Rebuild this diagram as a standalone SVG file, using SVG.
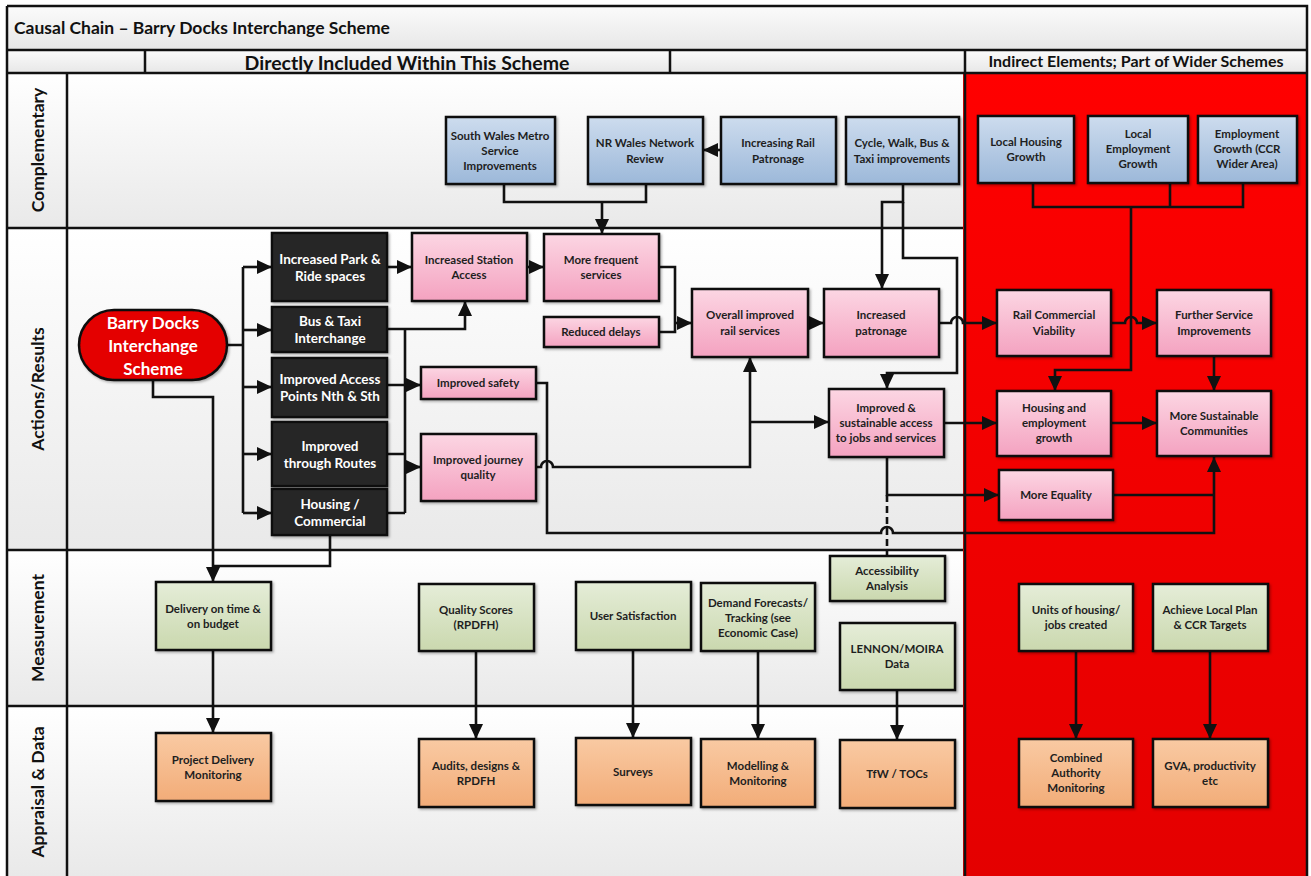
<svg xmlns="http://www.w3.org/2000/svg" width="1311" height="876" viewBox="0 0 1311 876">
  <style>
    .t { font-family: Lato, "Open Sans", "Liberation Sans", sans-serif; font-weight: bold; font-size: 11.5px; text-anchor: middle; fill: #1e1e1e; }
    .tw { fill: #ffffff; font-size: 13.5px; }
    .big { fill: #ffffff; font-size: 17px; }
    .lane { font-family: Lato, "Open Sans", "Liberation Sans", sans-serif; font-weight: bold; font-size: 17.5px; text-anchor: middle; fill: #111; }
    .hdr { font-family: Lato, "Open Sans", "Liberation Sans", sans-serif; font-weight: bold; text-anchor: middle; fill: #111; }
    .box { stroke: #111; stroke-width: 2.5; }
    .blue { fill: url(#gBlue); }
    .pink { fill: url(#gPink); }
    .green { fill: url(#gGreen); }
    .orange { fill: url(#gOrange); }
    .dark { fill: #262626; }
    .c { fill: none; stroke: #111; stroke-width: 2.6; }
    .a { marker-end: url(#ah); }
    .grid { stroke: #111; stroke-width: 2.5; fill: none; }
  </style>
  <defs>
    <linearGradient id="gBlue" x1="0" y1="0" x2="0" y2="1">
      <stop offset="0" stop-color="#cddcee"/>
      <stop offset="1" stop-color="#9cb8d9"/>
    </linearGradient>
    <linearGradient id="gPink" x1="0" y1="0" x2="0" y2="1">
      <stop offset="0" stop-color="#fcd6e3"/>
      <stop offset="1" stop-color="#f4a2c0"/>
    </linearGradient>
    <linearGradient id="gGreen" x1="0" y1="0" x2="0" y2="1">
      <stop offset="0" stop-color="#e5edd8"/>
      <stop offset="1" stop-color="#cad8ae"/>
    </linearGradient>
    <linearGradient id="gOrange" x1="0" y1="0" x2="0" y2="1">
      <stop offset="0" stop-color="#f9caa3"/>
      <stop offset="1" stop-color="#f2ac78"/>
    </linearGradient>
    <linearGradient id="gLane" x1="0" y1="0" x2="0" y2="1">
      <stop offset="0" stop-color="#ffffff"/>
      <stop offset="1" stop-color="#e9e9e9"/>
    </linearGradient>
    <linearGradient id="gTitle" x1="0" y1="0" x2="0" y2="1">
      <stop offset="0" stop-color="#fbfbfb"/>
      <stop offset="1" stop-color="#e7e7e7"/>
    </linearGradient>
    <linearGradient id="gRed" x1="0" y1="0" x2="0" y2="1">
      <stop offset="0" stop-color="#ff0000"/>
      <stop offset="1" stop-color="#e40000"/>
    </linearGradient>
    <filter id="sh" x="-10%" y="-10%" width="130%" height="130%">
      <feDropShadow dx="1.5" dy="1.5" stdDeviation="1" flood-color="#000" flood-opacity="0.3"/>
    </filter>
    <marker id="ah" markerUnits="userSpaceOnUse" markerWidth="15" markerHeight="14" refX="15" refY="7" orient="auto">
      <path d="M0,0 L15,7 L0,14 z" fill="#111"/>
    </marker>
  </defs>

  <!-- page background -->
  <rect x="0" y="0" width="1311" height="876" fill="#ffffff"/>

  <!-- frame: title row, header row, lanes -->
  <g id="frame">
    <rect x="7" y="6" width="1300" height="44" fill="url(#gTitle)"/>
    <rect x="7" y="50" width="1300" height="23" fill="url(#gTitle)"/>
    <rect x="7" y="73" width="956" height="155" fill="url(#gLane)"/>
    <rect x="7" y="228" width="956" height="322" fill="url(#gLane)"/>
    <rect x="7" y="550" width="956" height="156" fill="url(#gLane)"/>
    <rect x="7" y="706" width="956" height="170" fill="url(#gLane)"/>
    <rect x="963" y="73" width="344" height="803" fill="url(#gRed)"/>

    <path class="grid" d="M7,6 H1307 V876 M7,6 V876 M7,50 H1307 M7,73 H1307 M145,50 V73 M670,50 V73 M965,50 V876 M67,73 V876 M7,228 H963 M7,550 H963 M7,706 H963"/>

    <text class="hdr" x="14" y="34" style="text-anchor:start;font-size:17.5px">Causal Chain – Barry Docks Interchange Scheme</text>
    <text class="hdr" x="407" y="70" style="font-size:19.5px">Directly Included Within This Scheme</text>
    <text class="hdr" x="1136" y="67" style="font-size:16px">Indirect Elements; Part of Wider Schemes</text>

    <text class="lane" transform="translate(44,150) rotate(-90)">Complementary</text>
    <text class="lane" transform="translate(44,389) rotate(-90)">Actions/Results</text>
    <text class="lane" transform="translate(44,628) rotate(-90)">Measurement</text>
    <text class="lane" transform="translate(44,792) rotate(-90)">Appraisal &amp; Data</text>
  </g>

  <!-- connectors -->
  <g id="connectors">
    <!-- scheme fan-out to actions -->
    <path class="c" d="M227,345 H243 M243,267 V513"/>
    <path class="c a" d="M243,267 H272"/>
    <path class="c a" d="M243,330 H272"/>
    <path class="c a" d="M243,387 H272"/>
    <path class="c a" d="M243,454 H272"/>
    <path class="c a" d="M243,513 H272"/>
    <!-- scheme and housing to delivery -->
    <path class="c a" d="M153,380 V397 H213 V582"/>
    <path class="c" d="M330,535 V566 H213"/>
    <!-- actions to results -->
    <path class="c a" d="M387,267 H412"/>
    <path class="c a" d="M387,329 H465 V301"/>
    <path class="c" d="M405,329 V513 M387,385 H405 M387,454 H405 M387,513 H405"/>
    <path class="c a" d="M405,385 H421"/>
    <path class="c a" d="M405,467 H421"/>
    <path class="c a" d="M527,267 H544"/>
    <!-- complementary inputs -->
    <path class="c" d="M504,184 V202 H646 V184"/>
    <path class="c a" d="M602,202 V234"/>
    <path class="c a" d="M721,150 H703"/>
    <path class="c a" d="M903,185 V202 H882 V289"/>
    <path class="c a" d="M903,202 V258 H957 V373 H887 V389"/>
    <!-- rail service chain -->
    <path class="c" d="M659,267 H675 V332 H659"/>
    <path class="c a" d="M675,323 H692"/>
    <path class="c a" d="M808,323 H824"/>
    <path class="c a" d="M939,323 H951 a6,6 0 0 1 12,0 H997"/>
    <path class="c a" d="M1111,323 H1125 a6,6 0 0 1 12,0 H1157"/>
    <!-- wider growth inputs -->
    <path class="c" d="M1033,183 V207 H1243 V183 M1170,183 V207"/>
    <path class="c a" d="M1131,207 V370 H1055 V391"/>
    <!-- outcomes -->
    <path class="c a" d="M1214,356 V391"/>
    <path class="c a" d="M1111,423 H1157"/>
    <path class="c a" d="M944,423 H997"/>
    <path class="c a" d="M536,467 H541 a6,6 0 0 1 12,0 H750 V357"/>
    <path class="c a" d="M750,422 H829"/>
    <path class="c a" d="M536,383 H547 V533 H881 a6,6 0 0 1 12,0 H1214 V457"/>
    <path class="c a" d="M887,457 V495 H999"/>
    <path class="c" d="M887,495 V556" stroke-dasharray="7,4"/>
    <path class="c" d="M1113,495 H1214"/>
    <!-- measurement to appraisal -->
    <path class="c a" d="M213,650 V733"/>
    <path class="c a" d="M476,651 V739"/>
    <path class="c a" d="M633,650 V738"/>
    <path class="c a" d="M758,651 V739"/>
    <path class="c a" d="M897,690 V740"/>
    <path class="c a" d="M1076,651 V739"/>
    <path class="c a" d="M1210,651 V739"/>
  </g>

  <!-- complementary lane -->
  <g id="swm"><rect class="box blue" filter="url(#sh)" x="446" y="117" width="109" height="67"/>
    <text class="t" x="500" y="140">South Wales Metro</text><text class="t" x="500" y="155">Service</text><text class="t" x="500" y="170">Improvements</text></g>
  <g id="nrwales"><rect class="box blue" filter="url(#sh)" x="588" y="117" width="115" height="67"/>
    <text class="t" x="645" y="147">NR Wales Network</text><text class="t" x="645" y="163">Review</text></g>
  <g id="railpatronage"><rect class="box blue" filter="url(#sh)" x="721" y="117" width="115" height="67"/>
    <text class="t" x="778" y="147">Increasing Rail</text><text class="t" x="778" y="163">Patronage</text></g>
  <g id="cyclewalk"><rect class="box blue" filter="url(#sh)" x="846" y="117" width="113" height="67"/>
    <text class="t" x="902" y="147">Cycle, Walk, Bus &amp;</text><text class="t" x="902" y="163">Taxi improvements</text></g>
  <g id="localhousing"><rect class="box blue" filter="url(#sh)" x="978" y="116" width="96" height="67"/>
    <text class="t" x="1026" y="146">Local Housing</text><text class="t" x="1026" y="161">Growth</text></g>
  <g id="localemployment"><rect class="box blue" filter="url(#sh)" x="1088" y="116" width="100" height="67"/>
    <text class="t" x="1138" y="138">Local</text><text class="t" x="1138" y="153">Employment</text><text class="t" x="1138" y="168">Growth</text></g>
  <g id="ccrgrowth"><rect class="box blue" filter="url(#sh)" x="1198" y="116" width="99" height="67"/>
    <text class="t" x="1247" y="138">Employment</text><text class="t" x="1247" y="153">Growth (CCR</text><text class="t" x="1247" y="168">Wider Area)</text></g>

  <!-- actions / results lane -->
  <g id="scheme"><rect x="79" y="310" width="148" height="70" rx="35" fill="#e40000" stroke="#111" stroke-width="2.5" filter="url(#sh)"/>
    <text class="t big" x="153" y="329">Barry Docks</text><text class="t big" x="153" y="352">Interchange</text><text class="t big" x="153" y="375">Scheme</text></g>
  <g id="parkride"><rect class="box dark" filter="url(#sh)" x="272" y="233" width="115" height="68"/>
    <text class="t tw" x="330" y="264">Increased Park &amp;</text><text class="t tw" x="330" y="281">Ride spaces</text></g>
  <g id="bustaxi"><rect class="box dark" filter="url(#sh)" x="272" y="307" width="115" height="45"/>
    <text class="t tw" x="330" y="326">Bus &amp; Taxi</text><text class="t tw" x="330" y="343">Interchange</text></g>
  <g id="access"><rect class="box dark" filter="url(#sh)" x="272" y="358" width="115" height="59"/>
    <text class="t tw" x="330" y="384">Improved Access</text><text class="t tw" x="330" y="401">Points Nth &amp; Sth</text></g>
  <g id="through"><rect class="box dark" filter="url(#sh)" x="272" y="422" width="115" height="64"/>
    <text class="t tw" x="330" y="451">Improved</text><text class="t tw" x="330" y="468">through Routes</text></g>
  <g id="housingcommercial"><rect class="box dark" filter="url(#sh)" x="272" y="489" width="115" height="46"/>
    <text class="t tw" x="330" y="509">Housing /</text><text class="t tw" x="330" y="526">Commercial</text></g>
  <g id="stationaccess"><rect class="box pink" filter="url(#sh)" x="412" y="233" width="115" height="68"/>
    <text class="t" x="469" y="264">Increased Station</text><text class="t" x="469" y="279">Access</text></g>
  <g id="frequent"><rect class="box pink" filter="url(#sh)" x="544" y="234" width="115" height="67"/>
    <text class="t" x="601" y="264">More frequent</text><text class="t" x="601" y="279">services</text></g>
  <g id="delays"><rect class="box pink" filter="url(#sh)" x="544" y="317" width="115" height="30"/>
    <text class="t" x="601" y="336">Reduced delays</text></g>
  <g id="safety"><rect class="box pink" filter="url(#sh)" x="421" y="367" width="115" height="32"/>
    <text class="t" x="478" y="387">Improved safety</text></g>
  <g id="journey"><rect class="box pink" filter="url(#sh)" x="421" y="434" width="115" height="67"/>
    <text class="t" x="478" y="464">Improved journey</text><text class="t" x="478" y="479">quality</text></g>
  <g id="overall"><rect class="box pink" filter="url(#sh)" x="692" y="289" width="116" height="68"/>
    <text class="t" x="750" y="319">Overall improved</text><text class="t" x="750" y="335">rail services</text></g>
  <g id="patronage"><rect class="box pink" filter="url(#sh)" x="824" y="289" width="115" height="68"/>
    <text class="t" x="881" y="319">Increased</text><text class="t" x="881" y="335">patronage</text></g>
  <g id="sustainableaccess"><rect class="box pink" filter="url(#sh)" x="829" y="389" width="115" height="68"/>
    <text class="t" x="886" y="412">Improved &amp;</text><text class="t" x="886" y="427">sustainable access</text><text class="t" x="886" y="442">to jobs and services</text></g>
  <g id="railviability"><rect class="box pink" filter="url(#sh)" x="997" y="290" width="114" height="66"/>
    <text class="t" x="1054" y="319">Rail Commercial</text><text class="t" x="1054" y="335">Viability</text></g>
  <g id="furtherservice"><rect class="box pink" filter="url(#sh)" x="1157" y="290" width="114" height="66"/>
    <text class="t" x="1214" y="319">Further Service</text><text class="t" x="1214" y="335">Improvements</text></g>
  <g id="housinggrowth"><rect class="box pink" filter="url(#sh)" x="997" y="391" width="114" height="65"/>
    <text class="t" x="1054" y="412">Housing and</text><text class="t" x="1054" y="427">employment</text><text class="t" x="1054" y="442">growth</text></g>
  <g id="communities"><rect class="box pink" filter="url(#sh)" x="1157" y="391" width="114" height="65"/>
    <text class="t" x="1214" y="420">More Sustainable</text><text class="t" x="1214" y="435">Communities</text></g>
  <g id="equality"><rect class="box pink" filter="url(#sh)" x="999" y="470" width="114" height="50"/>
    <text class="t" x="1056" y="499">More Equality</text></g>

  <!-- measurement lane -->
  <g id="delivery"><rect class="box green" filter="url(#sh)" x="156" y="582" width="115" height="68"/>
    <text class="t" x="213" y="613">Delivery on time &amp;</text><text class="t" x="213" y="628">on budget</text></g>
  <g id="quality"><rect class="box green" filter="url(#sh)" x="419" y="584" width="115" height="67"/>
    <text class="t" x="476" y="614">Quality Scores</text><text class="t" x="476" y="629">(RPDFH)</text></g>
  <g id="usersat"><rect class="box green" filter="url(#sh)" x="576" y="582" width="115" height="68"/>
    <text class="t" x="633" y="620">User Satisfaction</text></g>
  <g id="demand"><rect class="box green" filter="url(#sh)" x="701" y="583" width="114" height="68"/>
    <text class="t" x="758" y="607">Demand Forecasts/</text><text class="t" x="758" y="622">Tracking (see</text><text class="t" x="758" y="637">Economic Case)</text></g>
  <g id="accessibility"><rect class="box green" filter="url(#sh)" x="830" y="556" width="115" height="45"/>
    <text class="t" x="887" y="575">Accessibility</text><text class="t" x="887" y="590">Analysis</text></g>
  <g id="lennon"><rect class="box green" filter="url(#sh)" x="840" y="623" width="115" height="67"/>
    <text class="t" x="897" y="653">LENNON/MOIRA</text><text class="t" x="897" y="668">Data</text></g>
  <g id="units"><rect class="box green" filter="url(#sh)" x="1019" y="584" width="114" height="67"/>
    <text class="t" x="1076" y="614">Units of housing/</text><text class="t" x="1076" y="629">jobs created</text></g>
  <g id="targets"><rect class="box green" filter="url(#sh)" x="1153" y="584" width="115" height="67"/>
    <text class="t" x="1210" y="614">Achieve Local Plan</text><text class="t" x="1210" y="629">&amp; CCR Targets</text></g>

  <!-- appraisal & data lane -->
  <g id="projectdelivery"><rect class="box orange" filter="url(#sh)" x="156" y="733" width="115" height="68"/>
    <text class="t" x="213" y="764">Project Delivery</text><text class="t" x="213" y="779">Monitoring</text></g>
  <g id="audits"><rect class="box orange" filter="url(#sh)" x="419" y="739" width="115" height="68"/>
    <text class="t" x="476" y="770">Audits, designs &amp;</text><text class="t" x="476" y="785">RPDFH</text></g>
  <g id="surveys"><rect class="box orange" filter="url(#sh)" x="576" y="738" width="115" height="67"/>
    <text class="t" x="633" y="776">Surveys</text></g>
  <g id="modelling"><rect class="box orange" filter="url(#sh)" x="701" y="739" width="114" height="68"/>
    <text class="t" x="758" y="770">Modelling &amp;</text><text class="t" x="758" y="785">Monitoring</text></g>
  <g id="tfw"><rect class="box orange" filter="url(#sh)" x="840" y="740" width="115" height="68"/>
    <text class="t" x="897" y="778">TfW / TOCs</text></g>
  <g id="combined"><rect class="box orange" filter="url(#sh)" x="1019" y="739" width="114" height="68"/>
    <text class="t" x="1076" y="762">Combined</text><text class="t" x="1076" y="777">Authority</text><text class="t" x="1076" y="792">Monitoring</text></g>
  <g id="gva"><rect class="box orange" filter="url(#sh)" x="1153" y="739" width="115" height="68"/>
    <text class="t" x="1210" y="770">GVA, productivity</text><text class="t" x="1210" y="785">etc</text></g>
</svg>
